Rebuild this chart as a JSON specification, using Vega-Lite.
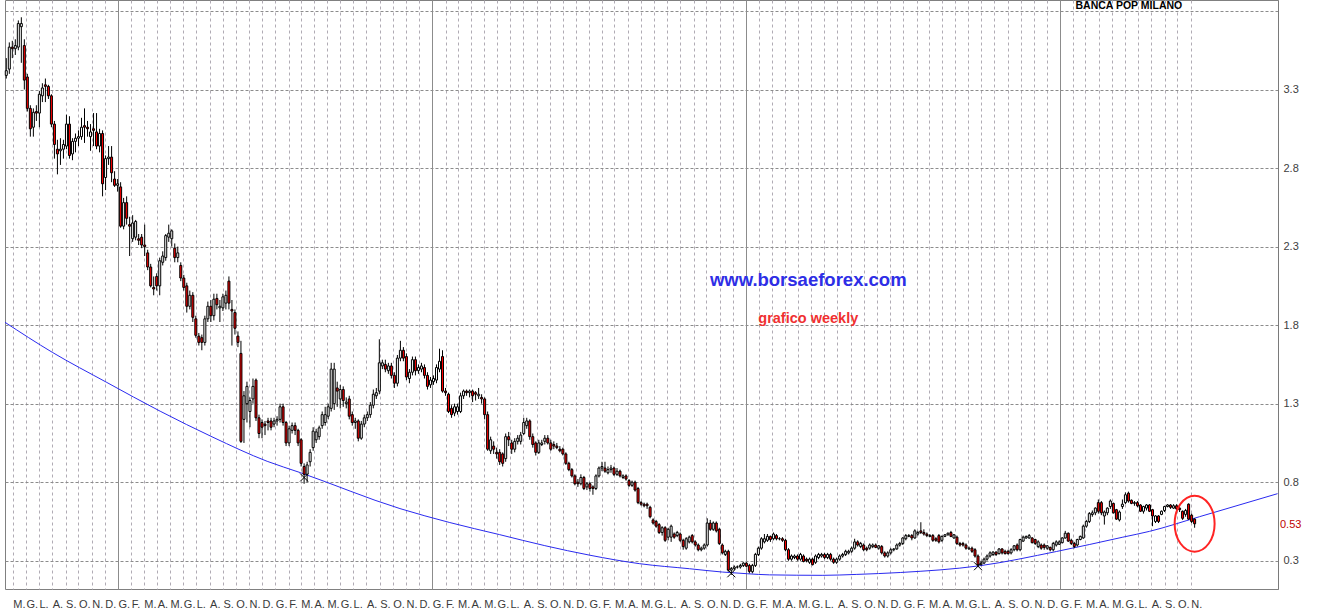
{
"$schema":"https://vega.github.io/schema/vega-lite/v6.json",
"width":1273,"height":589,
"autosize":{"type":"none"},
"padding":{"left":5,"top":0,"right":43,"bottom":22},
"background":"#ffffff",
"config":{"view":{"stroke":"#808080","strokeWidth":1},"font":"Liberation Sans","axis":{"labelFont":"Liberation Sans"}},
"datasets":{
"candles":[
{"t":"2007-04-16","o":3.39,"h":3.5,"l":3.37,"c":3.42},
{"t":"2007-04-23","o":3.43,"h":3.6,"l":3.4,"c":3.57},
{"t":"2007-04-30","o":3.57,"h":3.61,"l":3.5,"c":3.56},
{"t":"2007-05-07","o":3.56,"h":3.62,"l":3.52,"c":3.58},
{"t":"2007-05-14","o":3.57,"h":3.74,"l":3.55,"c":3.72},
{"t":"2007-05-21","o":3.7,"h":3.76,"l":3.47,"c":3.72},
{"t":"2007-05-28","o":3.58,"h":3.62,"l":3.3,"c":3.36},
{"t":"2007-06-04","o":3.38,"h":3.4,"l":3.16,"c":3.18},
{"t":"2007-06-11","o":3.18,"h":3.2,"l":3.0,"c":3.05},
{"t":"2007-06-18","o":3.06,"h":3.18,"l":3.0,"c":3.155},
{"t":"2007-06-25","o":3.16,"h":3.2,"l":3.1,"c":3.15},
{"t":"2007-07-02","o":3.15,"h":3.29,"l":3.06,"c":3.27},
{"t":"2007-07-09","o":3.26,"h":3.34,"l":3.22,"c":3.31},
{"t":"2007-07-16","o":3.33,"h":3.37,"l":3.22,"c":3.32},
{"t":"2007-07-23","o":3.32,"h":3.33,"l":3.24,"c":3.26},
{"t":"2007-07-30","o":3.26,"h":3.27,"l":3.06,"c":3.08},
{"t":"2007-08-06","o":3.08,"h":3.1,"l":2.86,"c":2.95},
{"t":"2007-08-13","o":2.92,"h":2.98,"l":2.76,"c":2.89},
{"t":"2007-08-20","o":2.91,"h":2.99,"l":2.82,"c":2.92},
{"t":"2007-08-27","o":2.92,"h":2.98,"l":2.86,"c":2.95},
{"t":"2007-09-03","o":2.94,"h":3.14,"l":2.92,"c":3.08},
{"t":"2007-09-10","o":3.08,"h":3.13,"l":2.86,"c":2.88},
{"t":"2007-09-17","o":2.89,"h":2.99,"l":2.85,"c":2.97},
{"t":"2007-09-24","o":2.97,"h":3.02,"l":2.9,"c":2.99},
{"t":"2007-10-01","o":2.99,"h":3.04,"l":2.94,"c":3.0},
{"t":"2007-10-08","o":3.0,"h":3.12,"l":2.98,"c":3.06},
{"t":"2007-10-15","o":3.07,"h":3.18,"l":2.96,"c":3.06},
{"t":"2007-10-22","o":3.06,"h":3.1,"l":3.0,"c":3.05},
{"t":"2007-10-29","o":3.0,"h":3.08,"l":2.91,"c":3.03},
{"t":"2007-11-05","o":3.05,"h":3.15,"l":2.94,"c":3.04},
{"t":"2007-11-12","o":3.03,"h":3.15,"l":2.92,"c":2.94},
{"t":"2007-11-19","o":2.94,"h":3.05,"l":2.9,"c":3.02},
{"t":"2007-11-26","o":3.02,"h":3.04,"l":2.62,"c":2.7},
{"t":"2007-12-03","o":2.74,"h":2.88,"l":2.66,"c":2.86},
{"t":"2007-12-10","o":2.86,"h":2.94,"l":2.82,"c":2.87},
{"t":"2007-12-17","o":2.87,"h":2.94,"l":2.71,"c":2.77},
{"t":"2007-12-24","o":2.73,"h":2.78,"l":2.68,"c":2.69},
{"t":"2007-12-31","o":2.69,"h":2.73,"l":2.65,"c":2.7},
{"t":"2008-01-07","o":2.68,"h":2.71,"l":2.42,"c":2.43},
{"t":"2008-01-14","o":2.43,"h":2.61,"l":2.41,"c":2.58},
{"t":"2008-01-21","o":2.58,"h":2.62,"l":2.44,"c":2.48},
{"t":"2008-01-28","o":2.44,"h":2.49,"l":2.24,"c":2.43},
{"t":"2008-02-04","o":2.35,"h":2.5,"l":2.33,"c":2.45},
{"t":"2008-02-11","o":2.36,"h":2.47,"l":2.34,"c":2.46},
{"t":"2008-02-18","o":2.35,"h":2.38,"l":2.31,"c":2.34},
{"t":"2008-02-25","o":2.36,"h":2.38,"l":2.29,"c":2.31},
{"t":"2008-03-03","o":2.31,"h":2.44,"l":2.24,"c":2.3},
{"t":"2008-03-10","o":2.26,"h":2.28,"l":2.15,"c":2.17},
{"t":"2008-03-17","o":2.17,"h":2.19,"l":2.04,"c":2.05},
{"t":"2008-03-24","o":2.04,"h":2.11,"l":1.99,"c":2.03},
{"t":"2008-03-31","o":2.11,"h":2.13,"l":2.02,"c":2.05},
{"t":"2008-04-07","o":2.05,"h":2.23,"l":1.99,"c":2.21},
{"t":"2008-04-14","o":2.2,"h":2.27,"l":2.18,"c":2.24},
{"t":"2008-04-21","o":2.23,"h":2.38,"l":2.21,"c":2.37},
{"t":"2008-04-28","o":2.36,"h":2.44,"l":2.33,"c":2.385},
{"t":"2008-05-05","o":2.35,"h":2.41,"l":2.3,"c":2.4},
{"t":"2008-05-12","o":2.29,"h":2.32,"l":2.2,"c":2.23},
{"t":"2008-05-19","o":2.23,"h":2.3,"l":2.2,"c":2.26},
{"t":"2008-05-26","o":2.18,"h":2.2,"l":2.08,"c":2.1},
{"t":"2008-06-02","o":2.1,"h":2.12,"l":2.02,"c":2.04},
{"t":"2008-06-09","o":2.05,"h":2.07,"l":1.88,"c":1.92},
{"t":"2008-06-16","o":1.92,"h":2.02,"l":1.9,"c":1.99},
{"t":"2008-06-23","o":1.99,"h":2.01,"l":1.82,"c":1.85},
{"t":"2008-06-30","o":1.84,"h":1.86,"l":1.72,"c":1.735},
{"t":"2008-07-07","o":1.73,"h":1.75,"l":1.67,"c":1.69},
{"t":"2008-07-14","o":1.72,"h":1.74,"l":1.64,"c":1.69},
{"t":"2008-07-21","o":1.69,"h":1.86,"l":1.67,"c":1.84},
{"t":"2008-07-28","o":1.84,"h":1.95,"l":1.82,"c":1.92},
{"t":"2008-08-04","o":1.92,"h":1.96,"l":1.82,"c":1.86},
{"t":"2008-08-11","o":1.86,"h":2.0,"l":1.83,"c":1.965},
{"t":"2008-08-18","o":1.97,"h":2.0,"l":1.9,"c":1.93},
{"t":"2008-08-25","o":1.91,"h":1.96,"l":1.82,"c":1.92},
{"t":"2008-09-01","o":1.91,"h":2.0,"l":1.89,"c":1.98},
{"t":"2008-09-08","o":1.94,"h":2.02,"l":1.9,"c":1.99},
{"t":"2008-09-15","o":2.08,"h":2.11,"l":1.9,"c":1.94},
{"t":"2008-09-22","o":1.9,"h":1.96,"l":1.67,"c":1.89},
{"t":"2008-09-29","o":1.88,"h":1.9,"l":1.74,"c":1.78},
{"t":"2008-10-06","o":1.73,"h":1.76,"l":1.66,"c":1.69},
{"t":"2008-10-13","o":1.62,"h":1.7,"l":1.05,"c":1.06},
{"t":"2008-10-20","o":1.2,"h":1.38,"l":1.05,"c":1.35},
{"t":"2008-10-27","o":1.3,"h":1.44,"l":1.18,"c":1.41},
{"t":"2008-11-03","o":1.25,"h":1.34,"l":1.15,"c":1.32},
{"t":"2008-11-10","o":1.33,"h":1.46,"l":1.3,"c":1.41},
{"t":"2008-11-17","o":1.45,"h":1.46,"l":1.19,"c":1.21},
{"t":"2008-11-24","o":1.21,"h":1.23,"l":1.08,"c":1.11},
{"t":"2008-12-01","o":1.18,"h":1.2,"l":1.08,"c":1.15},
{"t":"2008-12-08","o":1.17,"h":1.19,"l":1.1,"c":1.16},
{"t":"2008-12-15","o":1.19,"h":1.21,"l":1.13,"c":1.18},
{"t":"2008-12-22","o":1.19,"h":1.21,"l":1.13,"c":1.15},
{"t":"2008-12-29","o":1.17,"h":1.21,"l":1.15,"c":1.19},
{"t":"2009-01-05","o":1.19,"h":1.22,"l":1.16,"c":1.2},
{"t":"2009-01-12","o":1.2,"h":1.3,"l":1.18,"c":1.28},
{"t":"2009-01-19","o":1.28,"h":1.3,"l":1.16,"c":1.18},
{"t":"2009-01-26","o":1.18,"h":1.19,"l":1.03,"c":1.05},
{"t":"2009-02-02","o":1.05,"h":1.16,"l":1.03,"c":1.14},
{"t":"2009-02-09","o":1.13,"h":1.18,"l":1.11,"c":1.16},
{"t":"2009-02-16","o":1.16,"h":1.18,"l":1.1,"c":1.13},
{"t":"2009-02-23","o":1.13,"h":1.14,"l":1.03,"c":1.05},
{"t":"2009-03-02","o":1.07,"h":1.08,"l":0.9,"c":0.92},
{"t":"2009-03-09","o":0.9,"h":0.92,"l":0.79,"c":0.85},
{"t":"2009-03-16","o":0.85,"h":0.93,"l":0.8,"c":0.91},
{"t":"2009-03-23","o":0.93,"h":1.01,"l":0.9,"c":0.99},
{"t":"2009-03-30","o":1.02,"h":1.15,"l":1.0,"c":1.125},
{"t":"2009-04-06","o":1.07,"h":1.14,"l":1.05,"c":1.12},
{"t":"2009-04-13","o":1.09,"h":1.16,"l":1.07,"c":1.146},
{"t":"2009-04-20","o":1.16,"h":1.25,"l":1.14,"c":1.23},
{"t":"2009-04-27","o":1.18,"h":1.28,"l":1.16,"c":1.23},
{"t":"2009-05-04","o":1.22,"h":1.3,"l":1.2,"c":1.28},
{"t":"2009-05-11","o":1.27,"h":1.56,"l":1.25,"c":1.52},
{"t":"2009-05-18","o":1.3,"h":1.56,"l":1.26,"c":1.52},
{"t":"2009-05-25","o":1.4,"h":1.44,"l":1.28,"c":1.38},
{"t":"2009-06-01","o":1.33,"h":1.42,"l":1.27,"c":1.39},
{"t":"2009-06-08","o":1.39,"h":1.41,"l":1.28,"c":1.32},
{"t":"2009-06-15","o":1.3,"h":1.34,"l":1.27,"c":1.31},
{"t":"2009-06-22","o":1.33,"h":1.35,"l":1.2,"c":1.22},
{"t":"2009-06-29","o":1.23,"h":1.25,"l":1.16,"c":1.18},
{"t":"2009-07-06","o":1.18,"h":1.21,"l":1.14,"c":1.19},
{"t":"2009-07-13","o":1.19,"h":1.2,"l":1.06,"c":1.08},
{"t":"2009-07-20","o":1.08,"h":1.19,"l":1.07,"c":1.17},
{"t":"2009-07-27","o":1.17,"h":1.23,"l":1.15,"c":1.21},
{"t":"2009-08-03","o":1.21,"h":1.25,"l":1.19,"c":1.23},
{"t":"2009-08-10","o":1.23,"h":1.31,"l":1.21,"c":1.29},
{"t":"2009-08-17","o":1.29,"h":1.39,"l":1.27,"c":1.36},
{"t":"2009-08-24","o":1.35,"h":1.4,"l":1.33,"c":1.37},
{"t":"2009-08-31","o":1.38,"h":1.71,"l":1.36,"c":1.56},
{"t":"2009-09-07","o":1.54,"h":1.58,"l":1.52,"c":1.56},
{"t":"2009-09-14","o":1.55,"h":1.58,"l":1.5,"c":1.52},
{"t":"2009-09-21","o":1.51,"h":1.56,"l":1.49,"c":1.54},
{"t":"2009-09-28","o":1.54,"h":1.56,"l":1.46,"c":1.48},
{"t":"2009-10-05","o":1.48,"h":1.5,"l":1.4,"c":1.43},
{"t":"2009-10-12","o":1.43,"h":1.61,"l":1.41,"c":1.59},
{"t":"2009-10-19","o":1.59,"h":1.7,"l":1.57,"c":1.64},
{"t":"2009-10-26","o":1.64,"h":1.66,"l":1.57,"c":1.59},
{"t":"2009-11-02","o":1.6,"h":1.62,"l":1.45,"c":1.47},
{"t":"2009-11-09","o":1.46,"h":1.52,"l":1.43,"c":1.5},
{"t":"2009-11-16","o":1.5,"h":1.6,"l":1.48,"c":1.58},
{"t":"2009-11-23","o":1.58,"h":1.6,"l":1.48,"c":1.51},
{"t":"2009-11-30","o":1.51,"h":1.55,"l":1.49,"c":1.53},
{"t":"2009-12-07","o":1.52,"h":1.56,"l":1.5,"c":1.54},
{"t":"2009-12-14","o":1.53,"h":1.55,"l":1.46,"c":1.48},
{"t":"2009-12-21","o":1.48,"h":1.5,"l":1.39,"c":1.41},
{"t":"2009-12-28","o":1.42,"h":1.47,"l":1.4,"c":1.45},
{"t":"2010-01-04","o":1.44,"h":1.48,"l":1.42,"c":1.46},
{"t":"2010-01-11","o":1.45,"h":1.55,"l":1.43,"c":1.53},
{"t":"2010-01-18","o":1.52,"h":1.65,"l":1.5,"c":1.57},
{"t":"2010-01-25","o":1.6,"h":1.64,"l":1.37,"c":1.38},
{"t":"2010-02-01","o":1.38,"h":1.4,"l":1.35,"c":1.37},
{"t":"2010-02-08","o":1.36,"h":1.37,"l":1.24,"c":1.25},
{"t":"2010-02-15","o":1.27,"h":1.29,"l":1.21,"c":1.23},
{"t":"2010-02-22","o":1.24,"h":1.3,"l":1.22,"c":1.28},
{"t":"2010-03-01","o":1.25,"h":1.3,"l":1.23,"c":1.28},
{"t":"2010-03-08","o":1.25,"h":1.37,"l":1.24,"c":1.35},
{"t":"2010-03-15","o":1.35,"h":1.39,"l":1.33,"c":1.38},
{"t":"2010-03-22","o":1.38,"h":1.39,"l":1.35,"c":1.37},
{"t":"2010-03-29","o":1.37,"h":1.39,"l":1.34,"c":1.38},
{"t":"2010-04-05","o":1.38,"h":1.39,"l":1.31,"c":1.35},
{"t":"2010-04-12","o":1.37,"h":1.38,"l":1.32,"c":1.36},
{"t":"2010-04-19","o":1.35,"h":1.4,"l":1.33,"c":1.36},
{"t":"2010-04-26","o":1.34,"h":1.36,"l":1.3,"c":1.33},
{"t":"2010-05-03","o":1.33,"h":1.34,"l":1.2,"c":1.23},
{"t":"2010-05-10","o":1.23,"h":1.25,"l":1.0,"c":1.01},
{"t":"2010-05-17","o":1.0,"h":1.09,"l":0.98,"c":1.07},
{"t":"2010-05-24","o":1.03,"h":1.06,"l":0.98,"c":1.01},
{"t":"2010-05-31","o":0.99,"h":1.02,"l":0.95,"c":0.98},
{"t":"2010-06-07","o":0.99,"h":1.01,"l":0.91,"c":0.93},
{"t":"2010-06-14","o":0.98,"h":0.99,"l":0.9,"c":0.92},
{"t":"2010-06-21","o":0.95,"h":1.11,"l":0.93,"c":1.09},
{"t":"2010-06-28","o":1.09,"h":1.12,"l":1.03,"c":1.07},
{"t":"2010-07-05","o":1.05,"h":1.07,"l":0.98,"c":1.01},
{"t":"2010-07-12","o":1.01,"h":1.08,"l":0.99,"c":1.06},
{"t":"2010-07-19","o":1.06,"h":1.1,"l":1.04,"c":1.08},
{"t":"2010-07-26","o":1.06,"h":1.12,"l":1.04,"c":1.1},
{"t":"2010-08-02","o":1.11,"h":1.21,"l":1.1,"c":1.18},
{"t":"2010-08-09","o":1.16,"h":1.21,"l":1.14,"c":1.19},
{"t":"2010-08-16","o":1.19,"h":1.2,"l":1.07,"c":1.09},
{"t":"2010-08-23","o":1.09,"h":1.11,"l":1.02,"c":1.04},
{"t":"2010-08-30","o":1.05,"h":1.06,"l":0.97,"c":0.99},
{"t":"2010-09-06","o":0.99,"h":1.07,"l":0.98,"c":1.05},
{"t":"2010-09-13","o":1.04,"h":1.07,"l":1.03,"c":1.05},
{"t":"2010-09-20","o":1.06,"h":1.1,"l":1.04,"c":1.08},
{"t":"2010-09-27","o":1.08,"h":1.1,"l":1.04,"c":1.05},
{"t":"2010-10-04","o":1.05,"h":1.07,"l":1.0,"c":1.01},
{"t":"2010-10-11","o":1.04,"h":1.06,"l":1.01,"c":1.03},
{"t":"2010-10-18","o":1.03,"h":1.05,"l":1.01,"c":1.02},
{"t":"2010-10-25","o":1.01,"h":1.03,"l":0.99,"c":1.0},
{"t":"2010-11-01","o":1.01,"h":1.02,"l":0.97,"c":0.98},
{"t":"2010-11-08","o":0.98,"h":0.99,"l":0.91,"c":0.92},
{"t":"2010-11-15","o":0.92,"h":0.93,"l":0.87,"c":0.88},
{"t":"2010-11-22","o":0.88,"h":0.89,"l":0.83,"c":0.84},
{"t":"2010-11-29","o":0.84,"h":0.85,"l":0.78,"c":0.79},
{"t":"2010-12-06","o":0.8,"h":0.82,"l":0.77,"c":0.79},
{"t":"2010-12-13","o":0.79,"h":0.85,"l":0.78,"c":0.83},
{"t":"2010-12-20","o":0.83,"h":0.84,"l":0.75,"c":0.76},
{"t":"2010-12-27","o":0.77,"h":0.8,"l":0.75,"c":0.79},
{"t":"2011-01-03","o":0.79,"h":0.8,"l":0.74,"c":0.76},
{"t":"2011-01-10","o":0.77,"h":0.78,"l":0.72,"c":0.76},
{"t":"2011-01-17","o":0.76,"h":0.85,"l":0.75,"c":0.84},
{"t":"2011-01-24","o":0.84,"h":0.9,"l":0.83,"c":0.89},
{"t":"2011-01-31","o":0.89,"h":0.93,"l":0.87,"c":0.9},
{"t":"2011-02-07","o":0.89,"h":0.93,"l":0.86,"c":0.87},
{"t":"2011-02-14","o":0.86,"h":0.9,"l":0.85,"c":0.88},
{"t":"2011-02-21","o":0.88,"h":0.91,"l":0.86,"c":0.89},
{"t":"2011-02-28","o":0.89,"h":0.9,"l":0.84,"c":0.85},
{"t":"2011-03-07","o":0.85,"h":0.89,"l":0.84,"c":0.87},
{"t":"2011-03-14","o":0.87,"h":0.88,"l":0.83,"c":0.84},
{"t":"2011-03-21","o":0.83,"h":0.85,"l":0.82,"c":0.84},
{"t":"2011-03-28","o":0.84,"h":0.85,"l":0.81,"c":0.82},
{"t":"2011-04-04","o":0.81,"h":0.82,"l":0.77,"c":0.78},
{"t":"2011-04-11","o":0.78,"h":0.81,"l":0.77,"c":0.8},
{"t":"2011-04-18","o":0.8,"h":0.81,"l":0.74,"c":0.75},
{"t":"2011-04-25","o":0.76,"h":0.77,"l":0.66,"c":0.67},
{"t":"2011-05-02","o":0.67,"h":0.68,"l":0.65,"c":0.66},
{"t":"2011-05-09","o":0.66,"h":0.67,"l":0.64,"c":0.65},
{"t":"2011-05-16","o":0.66,"h":0.67,"l":0.63,"c":0.65},
{"t":"2011-05-23","o":0.64,"h":0.65,"l":0.57,"c":0.58},
{"t":"2011-05-30","o":0.56,"h":0.57,"l":0.53,"c":0.54},
{"t":"2011-06-06","o":0.55,"h":0.56,"l":0.51,"c":0.52},
{"t":"2011-06-13","o":0.53,"h":0.54,"l":0.47,"c":0.48},
{"t":"2011-06-20","o":0.48,"h":0.52,"l":0.46,"c":0.51},
{"t":"2011-06-27","o":0.51,"h":0.52,"l":0.42,"c":0.43},
{"t":"2011-07-04","o":0.45,"h":0.51,"l":0.43,"c":0.5},
{"t":"2011-07-11","o":0.45,"h":0.53,"l":0.42,"c":0.52},
{"t":"2011-07-18","o":0.47,"h":0.48,"l":0.44,"c":0.45},
{"t":"2011-07-25","o":0.46,"h":0.49,"l":0.45,"c":0.48},
{"t":"2011-08-01","o":0.47,"h":0.48,"l":0.42,"c":0.43},
{"t":"2011-08-08","o":0.43,"h":0.44,"l":0.37,"c":0.39},
{"t":"2011-08-15","o":0.38,"h":0.45,"l":0.37,"c":0.44},
{"t":"2011-08-22","o":0.42,"h":0.46,"l":0.41,"c":0.45},
{"t":"2011-08-29","o":0.46,"h":0.47,"l":0.41,"c":0.42},
{"t":"2011-09-05","o":0.42,"h":0.43,"l":0.39,"c":0.4},
{"t":"2011-09-12","o":0.4,"h":0.41,"l":0.36,"c":0.37},
{"t":"2011-09-19","o":0.37,"h":0.39,"l":0.36,"c":0.38},
{"t":"2011-09-26","o":0.38,"h":0.41,"l":0.37,"c":0.4},
{"t":"2011-10-03","o":0.4,"h":0.57,"l":0.39,"c":0.54},
{"t":"2011-10-10","o":0.54,"h":0.56,"l":0.49,"c":0.5},
{"t":"2011-10-17","o":0.5,"h":0.55,"l":0.49,"c":0.54},
{"t":"2011-10-24","o":0.54,"h":0.55,"l":0.48,"c":0.49},
{"t":"2011-10-31","o":0.5,"h":0.51,"l":0.4,"c":0.41},
{"t":"2011-11-07","o":0.4,"h":0.41,"l":0.34,"c":0.35},
{"t":"2011-11-14","o":0.34,"h":0.37,"l":0.33,"c":0.36},
{"t":"2011-11-21","o":0.36,"h":0.37,"l":0.23,"c":0.24},
{"t":"2011-11-28","o":0.24,"h":0.26,"l":0.21,"c":0.25},
{"t":"2011-12-05","o":0.25,"h":0.27,"l":0.24,"c":0.26},
{"t":"2011-12-12","o":0.26,"h":0.27,"l":0.25,"c":0.26},
{"t":"2011-12-19","o":0.26,"h":0.28,"l":0.25,"c":0.27},
{"t":"2011-12-26","o":0.27,"h":0.29,"l":0.26,"c":0.285},
{"t":"2012-01-02","o":0.285,"h":0.29,"l":0.26,"c":0.265},
{"t":"2012-01-09","o":0.27,"h":0.28,"l":0.22,"c":0.232},
{"t":"2012-01-16","o":0.23,"h":0.28,"l":0.22,"c":0.27},
{"t":"2012-01-23","o":0.27,"h":0.35,"l":0.26,"c":0.34},
{"t":"2012-01-30","o":0.34,"h":0.39,"l":0.33,"c":0.38},
{"t":"2012-02-06","o":0.38,"h":0.45,"l":0.37,"c":0.44},
{"t":"2012-02-13","o":0.42,"h":0.47,"l":0.41,"c":0.44},
{"t":"2012-02-20","o":0.43,"h":0.47,"l":0.42,"c":0.455},
{"t":"2012-02-27","o":0.455,"h":0.46,"l":0.42,"c":0.435},
{"t":"2012-03-05","o":0.44,"h":0.48,"l":0.43,"c":0.47},
{"t":"2012-03-12","o":0.46,"h":0.47,"l":0.43,"c":0.44},
{"t":"2012-03-19","o":0.44,"h":0.45,"l":0.43,"c":0.44},
{"t":"2012-03-26","o":0.44,"h":0.45,"l":0.42,"c":0.43},
{"t":"2012-04-02","o":0.43,"h":0.44,"l":0.36,"c":0.37},
{"t":"2012-04-09","o":0.37,"h":0.38,"l":0.3,"c":0.31},
{"t":"2012-04-16","o":0.31,"h":0.34,"l":0.3,"c":0.33},
{"t":"2012-04-23","o":0.32,"h":0.34,"l":0.31,"c":0.33},
{"t":"2012-04-30","o":0.33,"h":0.34,"l":0.3,"c":0.31},
{"t":"2012-05-07","o":0.31,"h":0.35,"l":0.3,"c":0.34},
{"t":"2012-05-14","o":0.33,"h":0.34,"l":0.29,"c":0.295},
{"t":"2012-05-21","o":0.31,"h":0.32,"l":0.29,"c":0.3},
{"t":"2012-05-28","o":0.29,"h":0.32,"l":0.28,"c":0.31},
{"t":"2012-06-04","o":0.31,"h":0.32,"l":0.27,"c":0.275},
{"t":"2012-06-11","o":0.29,"h":0.34,"l":0.28,"c":0.33},
{"t":"2012-06-18","o":0.32,"h":0.35,"l":0.31,"c":0.34},
{"t":"2012-06-25","o":0.33,"h":0.35,"l":0.32,"c":0.34},
{"t":"2012-07-02","o":0.34,"h":0.35,"l":0.31,"c":0.32},
{"t":"2012-07-09","o":0.32,"h":0.35,"l":0.31,"c":0.34},
{"t":"2012-07-16","o":0.34,"h":0.35,"l":0.3,"c":0.31},
{"t":"2012-07-23","o":0.31,"h":0.32,"l":0.28,"c":0.29},
{"t":"2012-07-30","o":0.29,"h":0.32,"l":0.28,"c":0.31},
{"t":"2012-08-06","o":0.31,"h":0.34,"l":0.3,"c":0.33},
{"t":"2012-08-13","o":0.33,"h":0.35,"l":0.32,"c":0.34},
{"t":"2012-08-20","o":0.34,"h":0.37,"l":0.33,"c":0.36},
{"t":"2012-08-27","o":0.35,"h":0.37,"l":0.34,"c":0.36},
{"t":"2012-09-03","o":0.36,"h":0.39,"l":0.35,"c":0.38},
{"t":"2012-09-10","o":0.38,"h":0.44,"l":0.37,"c":0.42},
{"t":"2012-09-17","o":0.42,"h":0.43,"l":0.39,"c":0.4},
{"t":"2012-09-24","o":0.39,"h":0.42,"l":0.38,"c":0.41},
{"t":"2012-10-01","o":0.4,"h":0.41,"l":0.36,"c":0.37},
{"t":"2012-10-08","o":0.38,"h":0.39,"l":0.36,"c":0.37},
{"t":"2012-10-15","o":0.38,"h":0.41,"l":0.37,"c":0.4},
{"t":"2012-10-22","o":0.39,"h":0.41,"l":0.38,"c":0.4},
{"t":"2012-10-29","o":0.4,"h":0.41,"l":0.38,"c":0.385},
{"t":"2012-11-05","o":0.38,"h":0.4,"l":0.37,"c":0.395},
{"t":"2012-11-12","o":0.39,"h":0.4,"l":0.34,"c":0.35},
{"t":"2012-11-19","o":0.35,"h":0.36,"l":0.32,"c":0.33},
{"t":"2012-11-26","o":0.33,"h":0.36,"l":0.32,"c":0.35},
{"t":"2012-12-03","o":0.35,"h":0.38,"l":0.34,"c":0.37},
{"t":"2012-12-10","o":0.37,"h":0.38,"l":0.36,"c":0.375},
{"t":"2012-12-17","o":0.375,"h":0.41,"l":0.37,"c":0.4},
{"t":"2012-12-24","o":0.4,"h":0.42,"l":0.39,"c":0.41},
{"t":"2012-12-31","o":0.41,"h":0.45,"l":0.4,"c":0.445},
{"t":"2013-01-07","o":0.44,"h":0.47,"l":0.43,"c":0.46},
{"t":"2013-01-14","o":0.455,"h":0.47,"l":0.45,"c":0.46},
{"t":"2013-01-21","o":0.46,"h":0.47,"l":0.43,"c":0.445},
{"t":"2013-01-28","o":0.445,"h":0.5,"l":0.44,"c":0.49},
{"t":"2013-02-04","o":0.47,"h":0.49,"l":0.46,"c":0.48},
{"t":"2013-02-11","o":0.49,"h":0.545,"l":0.47,"c":0.48},
{"t":"2013-02-18","o":0.48,"h":0.5,"l":0.46,"c":0.47},
{"t":"2013-02-25","o":0.47,"h":0.48,"l":0.45,"c":0.46},
{"t":"2013-03-04","o":0.455,"h":0.47,"l":0.45,"c":0.46},
{"t":"2013-03-11","o":0.46,"h":0.47,"l":0.42,"c":0.43},
{"t":"2013-03-18","o":0.44,"h":0.45,"l":0.42,"c":0.43},
{"t":"2013-03-25","o":0.46,"h":0.47,"l":0.41,"c":0.42},
{"t":"2013-04-01","o":0.43,"h":0.46,"l":0.42,"c":0.455},
{"t":"2013-04-08","o":0.455,"h":0.47,"l":0.45,"c":0.465},
{"t":"2013-04-15","o":0.465,"h":0.48,"l":0.46,"c":0.475},
{"t":"2013-04-22","o":0.48,"h":0.49,"l":0.45,"c":0.455},
{"t":"2013-04-29","o":0.445,"h":0.47,"l":0.44,"c":0.465},
{"t":"2013-05-06","o":0.45,"h":0.46,"l":0.4,"c":0.41},
{"t":"2013-05-13","o":0.41,"h":0.42,"l":0.39,"c":0.4},
{"t":"2013-05-20","o":0.41,"h":0.42,"l":0.39,"c":0.4},
{"t":"2013-05-27","o":0.4,"h":0.41,"l":0.37,"c":0.38},
{"t":"2013-06-03","o":0.375,"h":0.39,"l":0.37,"c":0.38},
{"t":"2013-06-10","o":0.38,"h":0.39,"l":0.35,"c":0.36},
{"t":"2013-06-17","o":0.37,"h":0.38,"l":0.32,"c":0.33},
{"t":"2013-06-24","o":0.33,"h":0.34,"l":0.26,"c":0.275},
{"t":"2013-07-01","o":0.275,"h":0.3,"l":0.27,"c":0.285},
{"t":"2013-07-08","o":0.285,"h":0.32,"l":0.28,"c":0.31},
{"t":"2013-07-15","o":0.31,"h":0.34,"l":0.3,"c":0.33},
{"t":"2013-07-22","o":0.33,"h":0.36,"l":0.32,"c":0.35},
{"t":"2013-07-29","o":0.34,"h":0.36,"l":0.33,"c":0.355},
{"t":"2013-08-05","o":0.355,"h":0.36,"l":0.33,"c":0.34},
{"t":"2013-08-12","o":0.345,"h":0.38,"l":0.34,"c":0.375},
{"t":"2013-08-19","o":0.375,"h":0.38,"l":0.34,"c":0.35},
{"t":"2013-08-26","o":0.36,"h":0.37,"l":0.34,"c":0.345},
{"t":"2013-09-02","o":0.36,"h":0.37,"l":0.34,"c":0.345},
{"t":"2013-09-09","o":0.35,"h":0.38,"l":0.34,"c":0.37},
{"t":"2013-09-16","o":0.37,"h":0.4,"l":0.36,"c":0.395},
{"t":"2013-09-23","o":0.4,"h":0.41,"l":0.36,"c":0.37},
{"t":"2013-09-30","o":0.37,"h":0.44,"l":0.36,"c":0.435},
{"t":"2013-10-07","o":0.425,"h":0.46,"l":0.42,"c":0.45},
{"t":"2013-10-14","o":0.445,"h":0.46,"l":0.44,"c":0.455},
{"t":"2013-10-21","o":0.445,"h":0.47,"l":0.44,"c":0.46},
{"t":"2013-10-28","o":0.445,"h":0.45,"l":0.41,"c":0.415},
{"t":"2013-11-04","o":0.435,"h":0.44,"l":0.4,"c":0.41},
{"t":"2013-11-11","o":0.39,"h":0.43,"l":0.38,"c":0.42},
{"t":"2013-11-18","o":0.4,"h":0.41,"l":0.37,"c":0.38},
{"t":"2013-11-25","o":0.4,"h":0.41,"l":0.37,"c":0.385},
{"t":"2013-12-02","o":0.38,"h":0.4,"l":0.37,"c":0.395},
{"t":"2013-12-09","o":0.385,"h":0.39,"l":0.36,"c":0.37},
{"t":"2013-12-16","o":0.37,"h":0.42,"l":0.36,"c":0.41},
{"t":"2013-12-23","o":0.4,"h":0.43,"l":0.39,"c":0.42},
{"t":"2013-12-30","o":0.405,"h":0.43,"l":0.4,"c":0.42},
{"t":"2014-01-06","o":0.415,"h":0.45,"l":0.41,"c":0.445},
{"t":"2014-01-13","o":0.445,"h":0.49,"l":0.44,"c":0.475},
{"t":"2014-01-20","o":0.475,"h":0.48,"l":0.42,"c":0.425},
{"t":"2014-01-27","o":0.43,"h":0.44,"l":0.4,"c":0.41},
{"t":"2014-02-03","o":0.41,"h":0.42,"l":0.38,"c":0.39},
{"t":"2014-02-10","o":0.4,"h":0.44,"l":0.39,"c":0.435},
{"t":"2014-02-17","o":0.435,"h":0.46,"l":0.43,"c":0.455},
{"t":"2014-02-24","o":0.445,"h":0.53,"l":0.44,"c":0.52},
{"t":"2014-03-03","o":0.52,"h":0.56,"l":0.51,"c":0.55},
{"t":"2014-03-10","o":0.55,"h":0.61,"l":0.54,"c":0.6},
{"t":"2014-03-17","o":0.594,"h":0.62,"l":0.58,"c":0.605},
{"t":"2014-03-24","o":0.605,"h":0.64,"l":0.59,"c":0.635},
{"t":"2014-03-31","o":0.67,"h":0.69,"l":0.6,"c":0.615},
{"t":"2014-04-07","o":0.67,"h":0.68,"l":0.59,"c":0.605},
{"t":"2014-04-14","o":0.585,"h":0.62,"l":0.53,"c":0.61},
{"t":"2014-04-21","o":0.605,"h":0.64,"l":0.59,"c":0.635},
{"t":"2014-04-28","o":0.645,"h":0.69,"l":0.63,"c":0.68},
{"t":"2014-05-05","o":0.665,"h":0.67,"l":0.6,"c":0.605},
{"t":"2014-05-12","o":0.625,"h":0.63,"l":0.56,"c":0.565},
{"t":"2014-05-19","o":0.56,"h":0.62,"l":0.55,"c":0.61},
{"t":"2014-05-26","o":0.645,"h":0.69,"l":0.63,"c":0.66},
{"t":"2014-06-02","o":0.67,"h":0.735,"l":0.66,"c":0.72},
{"t":"2014-06-09","o":0.73,"h":0.74,"l":0.67,"c":0.68},
{"t":"2014-06-16","o":0.685,"h":0.69,"l":0.66,"c":0.665},
{"t":"2014-06-23","o":0.665,"h":0.68,"l":0.65,"c":0.67},
{"t":"2014-06-30","o":0.67,"h":0.68,"l":0.64,"c":0.65},
{"t":"2014-07-07","o":0.655,"h":0.66,"l":0.61,"c":0.615},
{"t":"2014-07-14","o":0.615,"h":0.65,"l":0.6,"c":0.645},
{"t":"2014-07-21","o":0.635,"h":0.66,"l":0.62,"c":0.655},
{"t":"2014-07-28","o":0.655,"h":0.66,"l":0.61,"c":0.615},
{"t":"2014-08-04","o":0.625,"h":0.63,"l":0.52,"c":0.585},
{"t":"2014-08-11","o":0.55,"h":0.59,"l":0.54,"c":0.585},
{"t":"2014-08-18","o":0.585,"h":0.59,"l":0.54,"c":0.55},
{"t":"2014-08-25","o":0.595,"h":0.62,"l":0.59,"c":0.615},
{"t":"2014-09-01","o":0.62,"h":0.65,"l":0.61,"c":0.645},
{"t":"2014-09-08","o":0.645,"h":0.66,"l":0.64,"c":0.655},
{"t":"2014-09-15","o":0.655,"h":0.66,"l":0.63,"c":0.64},
{"t":"2014-09-22","o":0.635,"h":0.66,"l":0.63,"c":0.65},
{"t":"2014-09-29","o":0.65,"h":0.66,"l":0.62,"c":0.63},
{"t":"2014-10-06","o":0.635,"h":0.64,"l":0.61,"c":0.625},
{"t":"2014-10-13","o":0.615,"h":0.62,"l":0.56,"c":0.57},
{"t":"2014-10-20","o":0.595,"h":0.63,"l":0.58,"c":0.62},
{"t":"2014-10-27","o":0.66,"h":0.665,"l":0.56,"c":0.565},
{"t":"2014-11-03","o":0.59,"h":0.6,"l":0.54,"c":0.55},
{"t":"2014-11-10","o":0.565,"h":0.57,"l":0.51,"c":0.535}
],
"curve":[
{"t":"2007-04-13","v":1.818},
{"t":"2007-08-01","v":1.627},
{"t":"2007-12-06","v":1.435},
{"t":"2008-04-08","v":1.252},
{"t":"2008-08-09","v":1.086},
{"t":"2008-12-13","v":0.933},
{"t":"2009-02-28","v":0.861},
{"t":"2009-10-18","v":0.632},
{"t":"2010-02-11","v":0.543},
{"t":"2010-06-07","v":0.466},
{"t":"2010-09-20","v":0.396},
{"t":"2011-01-03","v":0.335},
{"t":"2011-04-29","v":0.281},
{"t":"2011-08-23","v":0.249},
{"t":"2011-11-07","v":0.228},
{"t":"2012-01-05","v":0.217},
{"t":"2012-02-25","v":0.21},
{"t":"2012-06-28","v":0.207},
{"t":"2012-09-15","v":0.213},
{"t":"2012-12-25","v":0.225},
{"t":"2013-06-28","v":0.268},
{"t":"2013-12-24","v":0.359},
{"t":"2014-05-27","v":0.45},
{"t":"2014-07-28","v":0.487},
{"t":"2014-11-21","v":0.58},
{"t":"2015-05-22","v":0.727}
],
"pivots":[
{"t":"2009-03-09","v":0.83},
{"t":"2011-11-28","v":0.22},
{"t":"2013-06-24","v":0.265}
]
},
"encoding":{
"x":{"field":"t","type":"temporal",
"scale":{"domain":[{"year":2007,"month":4,"date":13},{"year":2015,"month":5,"date":23}],"padding":0},
"axis":{"orient":"bottom","title":null,"tickCount":{"interval":"month","step":1},
"grid":true,"gridColor":{"condition":{"test":"month(datum.value)==0 && year(datum.value)%2==0","value":"#8c8c8c"},"value":"#b0abb4"},
"gridDash":{"condition":{"test":"month(datum.value)==0 && year(datum.value)%2==0","value":[]},"value":[3,3]},
"gridOpacity":{"condition":{"test":"datum.value > datetime(2014,10,20)","value":0},"value":1},
"labelExpr":"datum.value > datetime(2014,10,20) ? '' : ['G.','F.','M.','A.','M.','G.','L.','A.','S.','O.','N.','D.'][month(datum.value)]",
"labelAlign":"left","labelBaseline":"top","labelPadding":9,"ticks":false,"domain":false,
"labelFontSize":11,"labelColor":"#3a3a3a","labelOverlap":false,"labelBound":false,"labelFlush":false}}
},
"layer":[
{"data":{"name":"curve"},
"mark":{"type":"line","color":"#2a2af0","strokeWidth":1,"interpolate":"monotone","clip":true},
"encoding":{"y":{"field":"v","type":"quantitative","title":null,"scale":{"domain":[0.12,3.87],"nice":false,"zero":false,"padding":0},
"axis":{"orient":"right","title":null,"values":[0.3,0.8,1.3,1.8,2.3,2.8,3.3,3.8],"format":".1f",
"labelExpr":"datum.value > 3.5 ? '' : datum.label","grid":true,"gridColor":"#8c8c8c","gridDash":[3,2],
"ticks":false,"domain":true,"domainColor":"#7a7a7a","labelPadding":5,"labelFontSize":11,"labelColor":"#404040"}}}},
{"data":{"name":"candles"},
"mark":{"type":"rule","color":"#000000","strokeWidth":1},
"encoding":{"y":{"field":"l","type":"quantitative","title":null},"y2":{"field":"h"}}},
{"data":{"name":"candles"},
"mark":{"type":"bar","size":2,"stroke":"#000000","strokeWidth":1},
"encoding":{"y":{"field":"o","type":"quantitative","title":null},"y2":{"field":"c"},
"fill":{"condition":{"test":"datum.c < datum.o","value":"#ff0000"},"value":"#ffffff"}}},
{"data":{"name":"pivots"},
"mark":{"type":"point","shape":"M-1,-1L1,1M-1,1L1,-1","size":64,"filled":false,"stroke":"#000000","strokeWidth":1,"opacity":1},
"encoding":{"y":{"field":"v","type":"quantitative","title":null}}},
{"data":{"values":[{"t":"2014-11-10","v":0.536}]},
"mark":{"type":"point","shape":"M0,-1C0.394,-1,0.714,-0.552,0.714,0C0.714,0.552,0.394,1,0,1C-0.394,1,-0.714,0.552,-0.714,0C-0.714,-0.552,-0.394,-1,0,-1Z","size":3136,"filled":false,"stroke":"#ff2424","strokeWidth":2,"opacity":1},
"encoding":{"y":{"field":"v","type":"quantitative","title":null}}},
{"data":{"values":[{"t":"2012-05-25","v":2.047,"s":"www.borsaeforex.com"}]},
"mark":{"type":"text","font":"Liberation Sans","fontSize":18.5,"fontWeight":"bold","color":"#2e2ee6","align":"center","baseline":"alphabetic"},
"encoding":{"y":{"field":"v","type":"quantitative","title":null},"text":{"field":"s"}}},
{"data":{"values":[{"t":"2012-05-25","v":1.811,"s":"grafico weekly"}]},
"mark":{"type":"text","font":"Liberation Sans","fontSize":14.5,"fontWeight":"bold","color":"#f03030","align":"center","baseline":"alphabetic"},
"encoding":{"y":{"field":"v","type":"quantitative","title":null},"text":{"field":"s"}}},
{"data":{"values":[{"t":"2014-06-10","v":3.811,"s":"BANCA POP MILANO"}]},
"mark":{"type":"text","font":"Liberation Sans","fontSize":10.5,"fontWeight":"bold","color":"#000000","align":"center","baseline":"alphabetic"},
"encoding":{"y":{"field":"v","type":"quantitative","title":null},"text":{"field":"s"}}},
{"data":{"values":[{"t":"2015-05-23","v":0.53,"s":"0.53"}]},
"mark":{"type":"text","font":"Liberation Sans","fontSize":11,"color":"#c00000","align":"left","baseline":"middle","dx":2,"clip":false},
"encoding":{"y":{"field":"v","type":"quantitative","title":null},"text":{"field":"s"}}}
]
}
